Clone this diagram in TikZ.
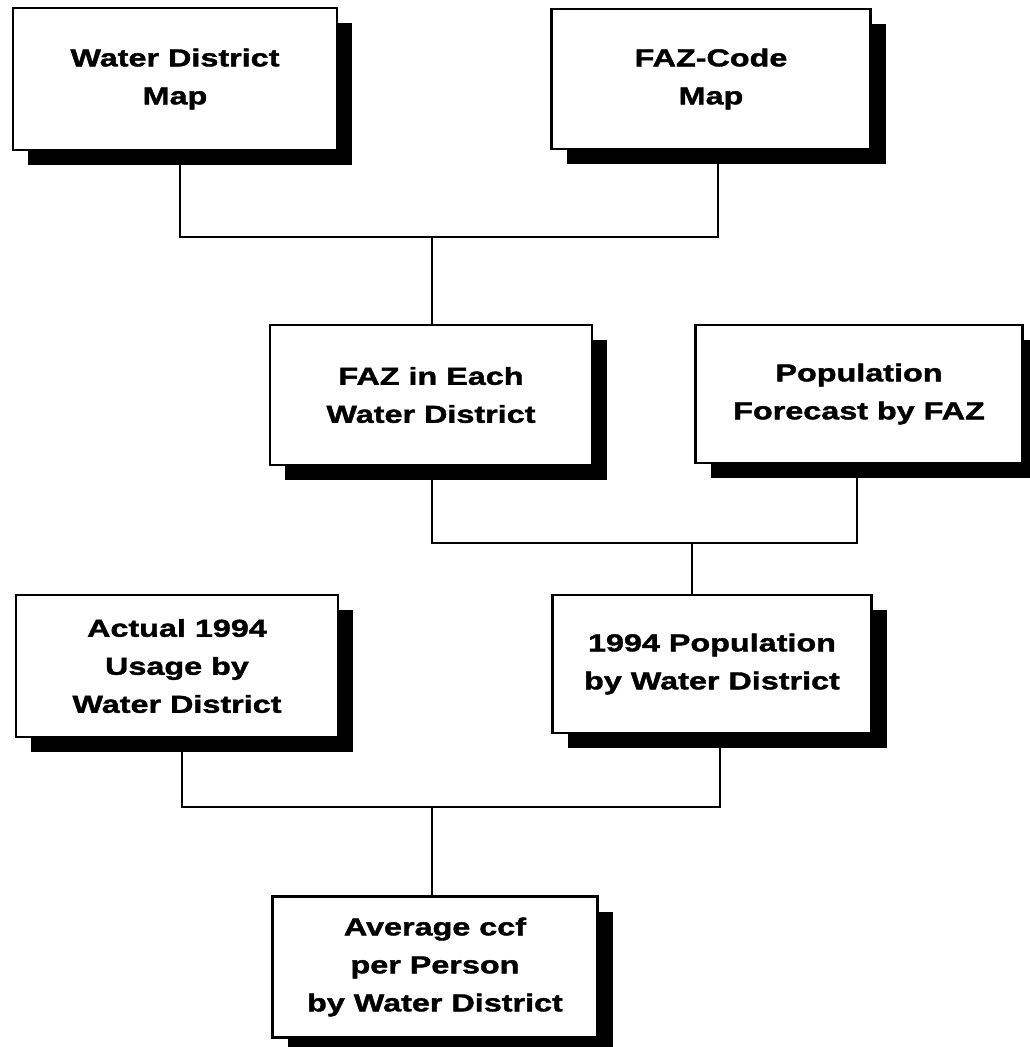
\documentclass[tikz,border=0pt]{standalone}
\usepackage{fontspec}
\newfontfamily\boxfont{Liberation Sans}[FakeStretch=1.32,FakeBold=1.6]
\usetikzlibrary{shadows}
\tikzset{
  flowbox/.style={draw, line width=2.6pt, fill=white, align=center,
    inner sep=0pt, minimum width=322pt, minimum height=140pt,
    font=\boxfont\bfseries\fontsize{24.5}{38}\selectfont,
    drop shadow={shadow xshift=15pt, shadow yshift=-15pt, fill=black, opacity=1}},
  link/.style={line width=2.6pt}
}
\begin{document}
\begin{tikzpicture}[x=1pt,y=-1pt]
\useasboundingbox (0,0) rectangle (1029,1047);
\node[flowbox, minimum width=324pt, minimum height=142pt] (b1) at (175,79) {Water District\\Map};
\node[flowbox, minimum width=319pt] (b2) at (711,79) {FAZ-Code\\Map};
\node[flowbox] (b3) at (431,395) {FAZ in Each\\Water District};
\node[flowbox, minimum width=327pt, minimum height=138pt] (b4) at (859,394) {Population\\Forecast by FAZ};
\node[flowbox, minimum height=142pt] (b5) at (177,666) {Actual 1994\\Usage by\\Water District};
\node[flowbox, minimum width=319pt, minimum height=138pt] (b6) at (712,664) {1994 Population\\by Water District};
\node[flowbox, minimum width=325pt, minimum height=141pt] (b7) at (435,967) {Average ccf\\per Person\\by Water District};
\coordinate (j1) at (432,237);
\coordinate (j2) at (692,543);
\coordinate (j3) at (432,807);
\draw[link] ([xshift=5pt]b1.south) |- (j1) -| ([xshift=7pt]b2.south);
\draw[link] (j1) -- (j1 |- b3.north);
\draw[link] ([xshift=1pt]b3.south) |- (j2) -| ([xshift=-2pt]b4.south);
\draw[link] (j2) -- (j2 |- b6.north);
\draw[link] ([xshift=5pt]b5.south) |- (j3) -| ([xshift=8pt]b6.south);
\draw[link] (j3) -- (j3 |- b7.north);
\end{tikzpicture}
\end{document}
